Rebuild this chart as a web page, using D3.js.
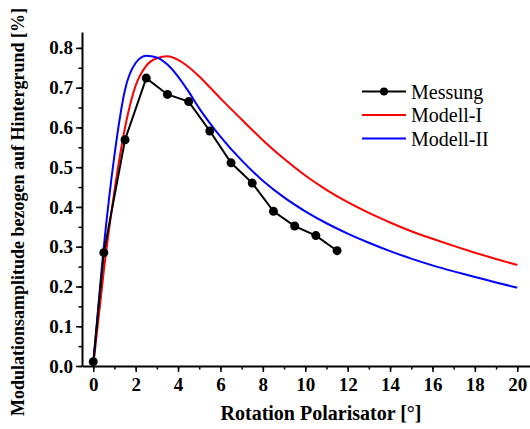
<!DOCTYPE html>
<html>
<head>
<meta charset="utf-8">
<script src="https://d3js.org/d3.v7.min.js"></script>
<style>
  body { margin: 0; background: #fff; }
  .tick text { font-family: 'Liberation Serif', serif; font-weight: bold; font-size: 19px; fill: #000; }
  .axis-title { font-family: 'Liberation Serif', serif; font-weight: bold; fill: #000; }
  .legend-text { font-family: 'Liberation Serif', serif; font-size: 20px; fill: #000; }
</style>
</head>
<body>
<div id="chart"></div>
<script>
// Messung
var messX = [0, 0.5, 1.5, 2.5, 3.5, 4.5, 5.5, 6.5, 7.5, 8.5, 9.5, 10.5, 11.5];
var messY = [0.011, 0.285, 0.569, 0.724, 0.683, 0.665, 0.591, 0.511, 0.46, 0.389, 0.352, 0.328, 0.29];

// Modell-I (rot)
var mod1X = [0, 0.5, 1, 1.5, 2, 2.5, 3, 3.5, 4, 4.5, 5, 5.5, 6, 7, 8, 9, 10, 11, 12, 13, 14, 15, 16, 17, 18, 19, 20];
var mod1Y = [0, 0.24, 0.44, 0.60, 0.705, 0.755, 0.774, 0.779, 0.77, 0.752, 0.728, 0.701, 0.673, 0.62, 0.568, 0.521, 0.479, 0.443, 0.412, 0.385, 0.361, 0.339, 0.32, 0.302, 0.285, 0.269, 0.254];

// Modell-II (blau)
var mod2X = [0, 0.5, 1, 1.5, 2, 2.5, 3, 3.5, 4, 4.5, 5, 5.5, 6, 7, 8, 9, 10, 11, 12, 13, 14, 15, 16, 17, 18, 19, 20];
var mod2Y = [0, 0.30, 0.53, 0.695, 0.762, 0.78, 0.776, 0.758, 0.728, 0.69, 0.648, 0.611, 0.577, 0.517, 0.466, 0.424, 0.389, 0.359, 0.333, 0.31, 0.289, 0.27, 0.253, 0.238, 0.224, 0.21, 0.197];

var xTicks = [0, 2, 4, 6, 8, 10, 12, 14, 16, 18, 20];
var yTicks = [0, 0.1, 0.2, 0.3, 0.4, 0.5, 0.6, 0.7, 0.8];

var legendNames = ["Messung", "Modell-I", "Modell-II"];
var legendColors = ["#000000", "#ff0000", "#0000ff"];

var w = 530, h = 429;

var x = d3.scaleLinear().domain([-0.53, 20.6]).range([82, 530]);
var y = d3.scaleLinear().domain([0, 0.84]).range([366, 32]);

var svg = d3.select("#chart").append("svg")
  .attr("width", w)
  .attr("height", h);

// minor ticks
svg.append("g")
  .attr("transform", "translate(0,366)")
  .call(d3.axisBottom(x).tickValues(d3.range(0, 21, 1)).tickSize(3.5).tickFormat("").tickSizeOuter(0))
  .call(function (g) { g.select(".domain").remove(); g.selectAll("line").attr("stroke-width", 1.5); });

svg.append("g")
  .attr("transform", "translate(82,0)")
  .call(d3.axisLeft(y).tickValues(d3.range(0, 0.84, 0.05)).tickSize(3.5).tickFormat("").tickSizeOuter(0))
  .call(function (g) { g.select(".domain").remove(); g.selectAll("line").attr("stroke-width", 1.5); });

// major axes
var xAxis = svg.append("g")
  .attr("transform", "translate(0,366)")
  .call(d3.axisBottom(x).tickValues(xTicks).tickFormat(d3.format("d")).tickSize(6).tickPadding(6).tickSizeOuter(0));
xAxis.select(".domain").attr("stroke-width", 2);
xAxis.selectAll("line").attr("stroke-width", 1.5);

var yAxis = svg.append("g")
  .attr("transform", "translate(82,0)")
  .call(d3.axisLeft(y).tickValues(yTicks).tickFormat(d3.format(".1f")).tickSize(6).tickPadding(3).tickSizeOuter(0));
yAxis.select(".domain").attr("stroke-width", 2);
yAxis.selectAll("line").attr("stroke-width", 1.5);

svg.selectAll(".tick text").attr("font-family", null).attr("font-size", null);

function pts(xs, ys) {
  return xs.map(function (d, i) { return [d, ys[i]]; });
}

var smooth = d3.line()
  .x(function (d) { return x(d[0]); })
  .y(function (d) { return y(d[1]); })
  .curve(d3.curveMonotoneX);

var straight = d3.line()
  .x(function (d) { return x(d[0]); })
  .y(function (d) { return y(d[1]); });

svg.append("path")
  .attr("d", smooth(pts(mod1X, mod1Y)))
  .attr("fill", "none")
  .attr("stroke", legendColors[1])
  .attr("stroke-width", 2);

svg.append("path")
  .attr("d", smooth(pts(mod2X, mod2Y)))
  .attr("fill", "none")
  .attr("stroke", legendColors[2])
  .attr("stroke-width", 2);

var mess = pts(messX, messY);
svg.append("path")
  .attr("d", straight(mess))
  .attr("fill", "none")
  .attr("stroke", legendColors[0])
  .attr("stroke-width", 2);

svg.selectAll(".dot")
  .data(mess)
  .enter().append("circle")
  .attr("cx", function (d) { return x(d[0]); })
  .attr("cy", function (d) { return y(d[1]); })
  .attr("r", 4.5)
  .attr("fill", "#000");

// titles
svg.append("text")
  .attr("class", "axis-title")
  .attr("x", 321)
  .attr("y", 420)
  .attr("text-anchor", "middle")
  .style("font-size", "20px")
  .text("Rotation Polarisator [°]");

svg.append("text")
  .attr("class", "axis-title")
  .attr("transform", "translate(24,212) rotate(-90)")
  .attr("text-anchor", "middle")
  .style("font-size", "18px")
  .text("Modulationsamplitude bezogen auf Hintergrund [%]");

// legend
var legend = svg.append("g");
legendNames.forEach(function (name, i) {
  var ly = 91.5 + i * 23.5;
  legend.append("line")
    .attr("x1", 362).attr("x2", 406)
    .attr("y1", ly).attr("y2", ly)
    .attr("stroke", legendColors[i])
    .attr("stroke-width", 2);
  if (i === 0) {
    legend.append("circle")
      .attr("cx", 384).attr("cy", ly).attr("r", 4)
      .attr("fill", "#000");
  }
  legend.append("text")
    .attr("class", "legend-text")
    .attr("x", 411)
    .attr("y", ly + 7)
    .text(name);
});
</script>
</body>
</html>
